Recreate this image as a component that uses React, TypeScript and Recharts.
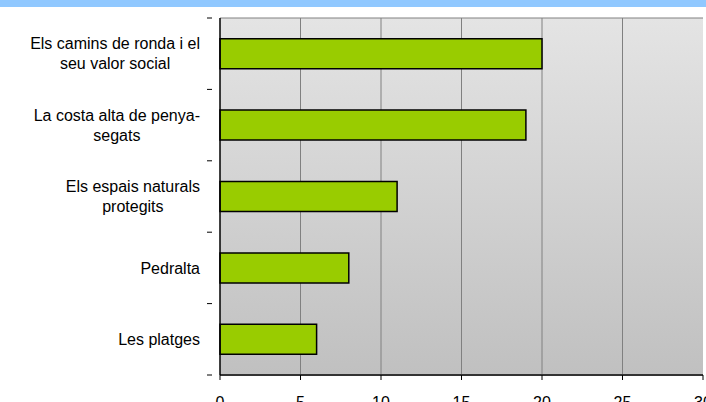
import { BarChart, Bar, XAxis, YAxis, CartesianGrid } from "recharts";

const categories = [
    "Els camins de ronda i el|seu valor social",
    "La costa alta de penya-|segats",
    "Els espais naturals|protegits",
    "Pedralta",
    "Les platges",
];
const values = [20, 19, 11, 8, 6];
const xTicks = [0, 5, 10, 15, 20, 25, 30];

const data = categories.map((name, i) => ({ name, value: values[i] }));

const W = 706;
const H = 402;
const TOP = 18;
const XAXIS_H = 27;
const XMAX = 30;
const BAND = (H - TOP - XAXIS_H) / categories.length;
const FONT = "'Liberation Sans', Arial, sans-serif";

let ctx: CanvasRenderingContext2D | null = null;
function textWidth(s: string) {
    if (!ctx) ctx = document.createElement("canvas").getContext("2d");
    if (!ctx) return s.length * 8;
    ctx.font = `16px ${FONT}`;
    return ctx.measureText(s).width;
}

function CategoryTick(props: any) {
    const { x, y, payload, index } = props;
    const lines: string[] = String(payload.value).split("|");
    const right = x - 12;
    const maxW = Math.max(...lines.map(textWidth));
    const center = right - maxW / 2;
    const last = index === categories.length - 1;
    return (
        <g>
            <line x1={x - 5} x2={x} y1={y - BAND / 2} y2={y - BAND / 2} stroke="#000" />
            {last && <line x1={x - 5} x2={x} y1={y + BAND / 2} y2={y + BAND / 2} stroke="#000" />}
            {lines.map((l, i) => (
                <text
                    key={i}
                    x={lines.length > 1 ? center : right}
                    y={y + (i - (lines.length - 1) / 2) * 20}
                    dy="0.36em"
                    textAnchor={lines.length > 1 ? "middle" : "end"}
                    fontSize={16}
                    fontFamily={FONT}
                    fill="#000"
                >
                    {l}
                </text>
            ))}
        </g>
    );
}

export default function App() {
    return (
        <div style={{ position: "fixed", left: 0, top: 0, width: W, height: H, background: "#fff" }}>
            <svg width={0} height={0} style={{ position: "absolute" }}>
                <defs>
                    <linearGradient id="plotBg" x1="0" y1="0" x2="0" y2="1">
                        <stop offset="0%" stopColor="#e4e4e4" />
                        <stop offset="100%" stopColor="#c0c0c0" />
                    </linearGradient>
                </defs>
            </svg>
            <div style={{ position: "absolute", left: 0, top: 0, width: W, height: 7, background: "#90c8ff" }} />
            <BarChart
                width={W}
                height={H}
                data={data}
                layout="vertical"
                margin={{ top: TOP, right: 3, bottom: 0, left: 0 }}
                barCategoryGap="29%"
            >
                <CartesianGrid
                    fill="url(#plotBg)"
                    stroke="#808080"
                    strokeWidth={1}
                    horizontalCoordinatesGenerator={({ offset }: any) => [offset.top]}
                    verticalCoordinatesGenerator={({ offset }: any) =>
                        xTicks.slice(1, -1).map((t) => offset.left + (t / XMAX) * offset.width)
                    }
                />
                <XAxis
                    type="number"
                    domain={[0, XMAX]}
                    ticks={xTicks}
                    interval={0}
                    height={XAXIS_H}
                    tickSize={5}
                    tickMargin={17}
                    axisLine={{ stroke: "#333", strokeWidth: 2 }}
                    tickLine={{ stroke: "#000" }}
                    tick={{ fontSize: 16, fontFamily: FONT, fill: "#000" }}
                />
                <YAxis
                    type="category"
                    dataKey="name"
                    width={220}
                    tickLine={false}
                    axisLine={{ stroke: "#000", strokeWidth: 1.5 }}
                    tick={<CategoryTick />}
                    interval={0}
                />
                <Bar
                    dataKey="value"
                    fill="#99cc00"
                    stroke="#000"
                    strokeWidth={1.5}
                    isAnimationActive={false}
                />
            </BarChart>
        </div>
    );
}
